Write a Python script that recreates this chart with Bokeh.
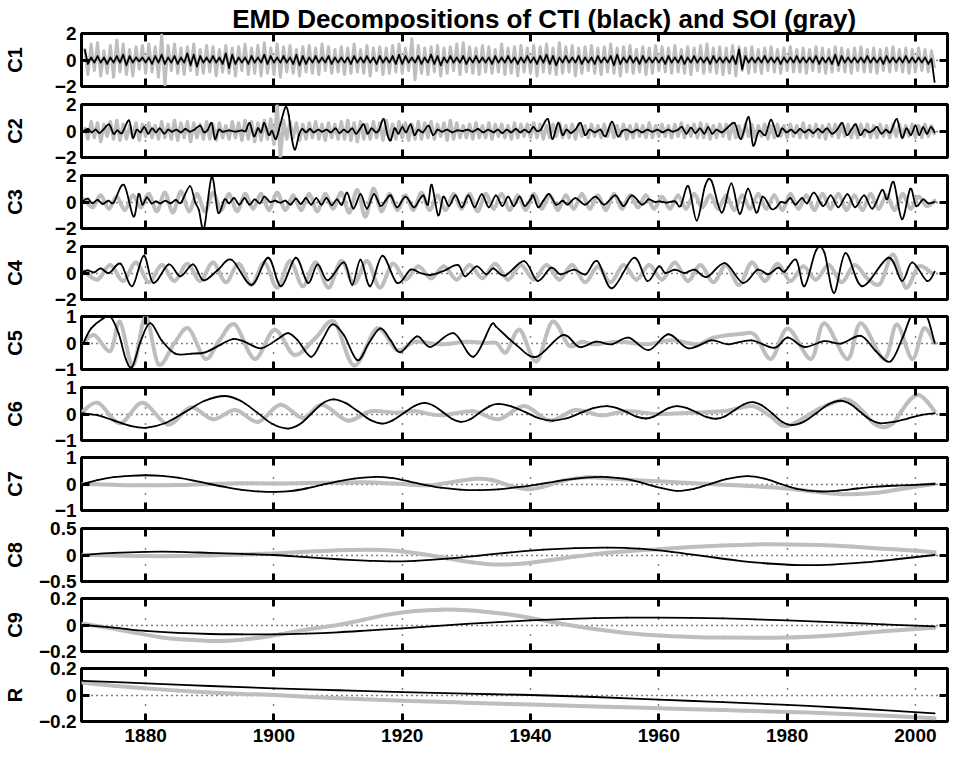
import numpy as np
from bokeh.plotting import figure
from bokeh.layouts import column
from bokeh.models import LinearAxis, FixedTicker, Range1d, Grid, Label
from bokeh.embed import file_html
from bokeh.resources import INLINE

TITLE = "EMD Decompositions of CTI (black) and SOI (gray)"
x_ticks = [1880, 1900, 1920, 1940, 1960, 1980, 2000]
x_tick_text = ["1880", "1900", "1920", "1940", "1960", "1980", "2000"]
panel_names = ["C1", "C2", "C3", "C4", "C5", "C6", "C7", "C8", "C9", "R"]
panel_limits = [2, 2, 2, 2, 1, 1, 1, 0.5, 0.2, 0.2]
panel_tick_text = [["−2", "0", "2"]] * 4 + [["−1", "0", "1"]] * 3 + \
    [["−0.5", "0", "0.5"], ["−0.2", "0", "0.2"], ["−0.2", "0", "0.2"]]

# ---------------- C1 (half-year samples from 1870.5) ----------------
c1_soi = [
 0.9,-1.1,1.2,-0.8,1.3,-1.2,0.7,-1.0,1.1,-1.3,1.5,-0.9,1.2,-1.1,0.8,-1.2,1.0,-0.7,1.1,-1.0,
 1.2,-0.9,1.0,-1.3,1.9,-1.9,1.1,-0.8,1.2,-1.0,0.9,-1.1,1.0,-0.8,1.2,-1.1,0.8,-1.0,1.1,-0.9,
 1.0,-1.2,0.8,-0.9,1.1,-1.0,0.9,-1.2,1.0,-0.8,1.2,-1.1,0.9,-1.0,1.1,-1.2,1.3,-1.0,0.9,-1.1,
 1.2,-1.3,1.0,-0.9,1.1,-1.0,0.8,-1.2,1.0,-0.9,1.1,-1.0,0.9,-1.1,1.2,-0.8,1.0,-1.0,0.8,-0.9,
 1.0,-1.1,0.9,-1.0,1.2,-0.9,0.8,-1.0,1.1,-1.2,0.9,-0.8,1.0,-1.1,0.9,-1.0,1.1,-0.9,1.2,-1.0,
 0.9,-0.8,1.6,-1.5,1.1,-1.0,0.9,-1.1,1.0,-0.9,1.1,-1.2,0.9,-1.0,1.0,-0.8,1.2,-1.1,1.3,-0.9,
 1.0,-1.0,0.9,-1.1,1.1,-0.9,1.0,-1.0,0.8,-0.9,1.2,-1.1,0.9,-1.0,1.0,-1.2,1.1,-0.9,0.9,-1.0,
 1.1,-1.2,1.0,-0.9,1.2,-1.0,0.9,-1.1,1.3,-1.0,1.0,-0.9,1.1,-1.2,0.9,-1.0,1.0,-0.8,1.1,-1.0,
 0.9,-1.1,1.0,-0.9,1.2,-1.0,0.9,-1.2,1.0,-0.9,1.1,-1.0,0.8,-0.9,1.0,-1.1,0.9,-1.0,1.1,-0.8,
 1.0,-0.9,0.9,-1.0,1.1,-0.9,0.8,-1.0,1.0,-1.1,0.9,-0.8,1.1,-1.0,1.2,-0.9,0.9,-1.0,1.0,-1.1,
 0.9,-1.0,1.1,-1.2,1.0,-0.8,0.9,-1.0,1.0,-0.9,0.8,-1.0,0.9,-0.8,1.0,-0.9,0.8,-1.0,0.9,-0.8,
 1.0,-0.9,0.8,-0.9,0.9,-1.0,0.8,-0.8,1.0,-0.9,0.9,-1.0,0.8,-0.9,1.0,-0.8,0.9,-0.9,0.8,-1.0,
 0.9,-0.8,1.0,-0.9,0.8,-0.9,0.9,-1.0,0.8,-0.8,0.9,-0.9,1.0,-0.8,0.8,-0.9,0.9,-1.0,0.8,-0.9,
 0.9,-0.8,0.8,-0.9,0.7,-0.6]
c1_cti = [
 0.8,-0.3,0.2,-0.2,0.3,-0.2,0.2,-0.3,0.2,-0.2,0.3,-0.2,0.4,-0.4,0.3,-0.2,0.2,-0.1,0.2,-0.2,
 0.2,-0.3,0.3,-0.2,0.4,-0.3,0.2,-0.2,0.3,-0.3,0.2,-0.2,0.5,-0.4,0.4,-0.5,0.3,-0.2,0.2,-0.2,
 0.3,-0.2,0.2,-0.3,0.5,-0.6,0.4,-0.3,0.2,-0.2,0.2,-0.3,0.3,-0.2,0.2,-0.2,0.4,-0.3,0.3,-0.2,
 0.2,-0.2,0.3,-0.2,0.2,-0.3,0.4,-0.4,0.3,-0.3,0.2,-0.2,0.3,-0.2,0.2,-0.2,0.3,-0.3,0.2,-0.2,
 0.2,-0.2,0.2,-0.3,0.3,-0.2,0.2,-0.2,0.3,-0.2,0.2,-0.3,0.3,-0.2,0.2,-0.2,0.3,-0.3,0.4,-0.3,
 0.3,-0.2,0.2,-0.2,0.3,-0.3,0.2,-0.2,0.4,-0.3,0.3,-0.4,0.2,-0.2,0.3,-0.2,0.2,-0.2,0.3,-0.3,
 0.2,-0.2,0.3,-0.2,0.2,-0.2,0.2,-0.3,0.3,-0.2,0.2,-0.2,0.3,-0.2,0.2,-0.3,0.2,-0.2,0.3,-0.2,
 0.2,-0.3,0.3,-0.2,0.4,-0.3,0.3,-0.4,0.2,-0.2,0.3,-0.2,0.2,-0.2,0.3,-0.3,0.2,-0.2,0.2,-0.3,
 0.3,-0.2,0.2,-0.2,0.3,-0.4,0.4,-0.3,0.2,-0.2,0.3,-0.2,0.2,-0.3,0.3,-0.2,0.2,-0.2,0.2,-0.2,
 0.2,-0.3,0.3,-0.2,0.2,-0.2,0.3,-0.3,0.2,-0.2,0.3,-0.2,0.2,-0.2,0.2,-0.3,0.3,-0.2,0.2,-0.2,
 0.2,-0.2,0.3,-0.3,0.8,-0.7,0.3,-0.2,0.2,-0.2,0.2,-0.2,0.3,-0.2,0.2,-0.2,0.2,-0.3,0.2,-0.2,
 0.2,-0.2,0.3,-0.2,0.2,-0.2,0.2,-0.2,0.3,-0.3,0.2,-0.2,0.2,-0.3,0.4,-0.4,0.3,-0.2,0.2,-0.2,
 0.2,-0.2,0.2,-0.2,0.3,-0.2,0.2,-0.2,0.2,-0.3,0.3,-0.2,0.2,-0.2,0.2,-0.2,0.3,-0.2,0.2,-0.2,
 0.2,-0.2,0.2,-0.3,0.1,-1.7]

# ---------------- C2 ----------------
c2_soi = [
 0.3,-0.6,0.7,-0.5,0.6,-0.8,0.5,-0.4,0.7,-0.6,0.8,-0.7,0.5,-0.6,0.4,-0.5,0.6,-0.7,0.5,-0.4,
 0.6,-0.5,0.4,-0.6,0.7,-0.5,0.5,-0.6,0.8,-0.7,0.6,-0.5,0.7,-0.8,0.6,-0.5,0.5,-0.6,0.7,-0.6,
 0.5,-0.7,0.6,-0.5,0.4,-0.6,0.7,-0.5,0.6,-0.7,0.8,-0.6,0.7,-0.8,0.6,-0.7,0.8,-0.6,0.9,-1.0,
 1.9,-2.0,0.8,-0.6,0.7,-0.5,0.6,-0.7,0.5,-0.6,0.6,-0.5,0.7,-0.6,0.5,-0.7,0.6,-0.5,0.5,-0.6,
 0.7,-0.6,0.8,-0.7,0.6,-0.8,0.7,-0.6,0.5,-0.6,0.7,-0.5,0.6,-0.7,0.8,-0.6,0.5,-0.6,0.7,-0.5,
 0.6,-0.7,0.5,-0.6,0.7,-0.6,0.6,-0.5,0.7,-0.6,0.5,-0.4,0.6,-0.7,0.8,-0.6,0.6,-0.5,0.4,-0.5,
 0.5,-0.6,0.6,-0.5,0.4,-0.5,0.6,-0.6,0.5,-0.4,0.5,-0.5,0.4,-0.6,0.6,-0.5,0.5,-0.4,0.5,-0.5,
 0.6,-0.5,0.5,-0.6,0.4,-0.5,0.5,-0.4,0.6,-0.5,0.4,-0.5,0.5,-0.6,0.5,-0.4,0.4,-0.5,0.5,-0.4,
 0.4,-0.5,0.5,-0.4,0.5,-0.5,0.4,-0.4,0.5,-0.6,0.4,-0.5,0.5,-0.4,0.4,-0.5,0.6,-0.5,0.4,-0.4,
 0.5,-0.4,0.4,-0.5,0.5,-0.4,0.6,-0.5,0.4,-0.4,0.5,-0.5,0.6,-0.5,0.5,-0.6,0.4,-0.5,0.5,-0.4,
 0.5,-0.6,0.6,-0.5,0.4,-0.5,0.5,-0.4,0.5,-0.5,0.4,-0.4,0.5,-0.6,0.4,-0.5,0.5,-0.4,0.4,-0.5,
 0.5,-0.4,0.4,-0.5,0.6,-0.5,0.4,-0.4,0.5,-0.5,0.4,-0.6,0.5,-0.4,0.5,-0.5,0.4,-0.4,0.5,-0.5,
 0.4,-0.5,0.5,-0.4,0.5,-0.5,0.4,-0.5,0.5,-0.4,0.4,-0.5,0.5,-0.4,0.5,-0.5,0.4,-0.4,0.5,-0.5,
 0.4,-0.5,0.5,-0.4,0.4,-0.3]
c2_cti = [
 (1870.3,0.0),(1871.0,0.15),(1871.6,-0.1),(1872.2,0.1),(1872.8,-0.15),(1873.4,0.1),(1874.3,0.5),
 (1875.0,-0.2),(1875.6,0.05),(1876.3,-0.15),(1877.4,0.8),(1878.0,-0.5),(1878.6,0.1),(1879.2,-0.1),
 (1879.8,0.3),(1880.4,-0.2),(1881.0,0.2),(1881.6,-0.1),(1882.2,0.2),(1882.9,-0.2),(1883.5,0.1),
 (1884.1,-0.05),(1884.8,0.1),(1885.5,-0.1),(1886.2,0.15),(1886.9,-0.05),(1887.6,0.1),(1888.5,0.4),
 (1889.1,-0.1),(1889.7,0.1),(1890.3,0.6),(1890.8,-0.6),(1891.4,0.1),(1892.0,-0.05),(1893.0,0.05),
 (1894.0,-0.05),(1895.0,0.05),(1895.6,0.0),(1896.2,0.6),(1896.9,-0.4),(1897.5,0.2),(1898.0,-0.1),
 (1898.5,0.6),(1899.2,-0.3),(1899.7,0.0),(1900.3,-0.6),(1901.0,0.5),(1901.8,1.8),(1902.3,1.2),
 (1902.8,-0.6),(1903.3,-1.4),(1903.9,-0.3),(1904.4,0.15),(1905.0,-0.1),(1905.6,0.15),(1906.2,-0.1),
 (1906.9,0.1),(1907.5,-0.05),(1908.2,0.1),(1908.9,-0.1),(1909.6,0.2),(1910.2,-0.15),(1910.9,0.1),
 (1911.5,-0.1),(1912.2,0.2),(1912.8,-0.2),(1913.4,0.15),(1914.0,0.5),(1914.6,-0.2),(1915.2,0.2),
 (1915.9,-0.1),(1916.4,0.1),(1917.1,0.9),(1917.7,-0.3),(1918.2,-0.7),(1918.8,0.2),(1919.4,-0.2),
 (1920.0,0.3),(1920.6,-0.1),(1921.3,0.5),(1921.9,-0.3),(1922.5,0.1),(1923.2,-0.1),(1924.1,0.4),
 (1924.8,-0.3),(1925.5,0.1),(1926.2,-0.05),(1927.0,0.1),(1927.8,-0.1),(1928.6,0.05),(1929.4,0.0),
 (1930.2,0.1),(1931.0,-0.05),(1931.8,0.15),(1932.6,-0.1),(1933.4,0.1),(1934.2,-0.1),(1934.9,0.1),
 (1935.6,-0.15),(1936.3,0.1),(1937.0,-0.1),(1937.7,0.15),(1938.4,-0.1),(1939.1,0.1),(1939.8,-0.1),
 (1940.4,0.3),(1941.0,0.0),(1941.6,0.1),(1942.7,0.9),(1943.4,-0.6),(1944.3,0.6),(1945.0,-0.3),
 (1945.6,0.1),(1946.3,-0.15),(1947.0,0.1),(1947.8,0.6),(1948.5,-0.3),(1949.2,0.1),(1950.0,-0.1),
 (1950.9,0.1),(1951.7,-0.4),(1952.7,0.7),(1953.6,-0.4),(1954.3,0.0),(1955.0,0.1),(1955.8,-0.1),
 (1956.6,0.1),(1957.4,-0.1),(1958.2,0.1),(1959.0,-0.05),(1959.8,0.1),(1960.6,-0.1),(1961.4,0.1),
 (1962.2,-0.05),(1963.0,0.1),(1963.6,0.3),(1964.3,-0.2),(1965.0,0.25),(1965.7,-0.15),(1966.4,0.2),
 (1967.1,-0.2),(1967.7,0.3),(1968.3,-0.2),(1969.0,0.1),(1969.8,-0.1),(1970.6,0.2),(1971.8,0.6),
 (1972.8,-0.6),(1974.0,1.05),(1974.7,-1.1),(1975.6,0.0),(1976.6,-0.3),(1977.5,0.85),(1978.5,-0.4),
 (1979.2,0.2),(1979.9,-0.1),(1980.6,0.1),(1981.3,-0.15),(1982.0,0.15),(1982.7,-0.1),(1983.4,0.1),
 (1984.1,-0.15),(1984.8,0.15),(1985.5,-0.1),(1986.2,0.2),(1987.0,-0.2),(1987.8,0.1),(1988.6,0.6),
 (1989.3,-0.3),(1990.0,0.1),(1990.7,0.5),(1991.4,-0.3),(1992.1,0.1),(1992.8,-0.1),(1993.5,0.1),
 (1994.0,0.3),(1994.7,-0.2),(1995.4,0.1),(1996.1,-0.1),(1997.1,0.9),(1997.9,-0.5),(1998.6,0.2),
 (1999.3,-0.3),(2000.0,0.4),(2000.6,-0.3),(2001.2,0.3),(2001.8,-0.2),(2002.4,0.3),(2003.0,-0.1)]

# ---------------- C3 ----------------
c3_soi = [  # 1.25-year spaced extrema from 1870.5
 0.2,-0.4,0.5,-0.5,0.4,-0.6,0.5,-0.4,
 0.6,-0.7,0.7,-0.8,0.8,-0.7,0.6,-0.7,
 0.7,-0.6,0.6,-0.7,0.6,-0.5,0.6,-0.6,
 0.7,-0.6,0.5,-0.6,0.6,-0.7,0.6,-0.5,
 0.7,-0.8,0.9,-1.1,1.0,-0.7,0.6,-0.6,
 0.5,-0.6,0.7,-0.6,0.5,-0.6,0.6,-0.5,
 0.6,-0.7,0.6,-0.5,0.6,-0.6,0.5,-0.6,
 0.6,-0.5,0.5,-0.6,0.5,-0.5,0.6,-0.5,
 0.5,-0.6,0.6,-0.5,0.5,-0.4,0.5,-0.5,
 0.4,-0.5,0.5,-0.5,0.6,-0.4,0.5,-0.5,
 0.5,-0.6,0.5,-0.5,0.6,-0.5,0.5,-0.6,
 0.6,-0.5,0.5,-0.6,0.6,-0.5,0.6,-0.6,
 0.5,-0.6,0.6,-0.5,0.5,-0.6,0.6,-0.5,
 0.4,-0.3,0.1]
c3_cti = [
 (1870.3,0.1),(1871.0,0.25),(1871.7,-0.1),(1872.5,0.15),(1873.3,-0.15),(1874.2,0.1),(1875.0,-0.05),
 (1876.6,1.3),(1878.1,-1.1),(1878.9,0.6),(1879.5,-0.2),(1880.2,0.35),(1880.9,-0.1),(1881.6,0.05),
 (1882.3,-0.1),(1883.1,0.1),(1883.9,-0.1),(1884.7,0.15),(1885.5,-0.05),(1886.9,1.2),(1887.7,0.0),
 (1888.3,-0.6),(1889.1,-2.0),(1890.3,1.9),(1891.3,-0.8),(1892.3,0.2),(1893.0,-0.1),(1893.8,0.3),
 (1894.6,-0.2),(1895.4,0.3),(1896.2,-0.2),(1897.0,0.2),(1897.8,-0.1),(1898.5,0.4),(1899.4,0.0),
 (1900.2,0.1),(1901.0,-0.05),(1901.8,0.1),(1902.6,-0.2),(1903.4,0.25),(1904.2,-0.15),(1905.0,0.3),
 (1905.8,-0.2),(1906.6,0.3),(1907.4,-0.2),(1908.2,0.3),(1909.0,-0.25),(1909.8,0.2),(1910.6,-0.2),
 (1911.4,0.7),(1912.4,-0.5),(1913.5,0.6),(1914.5,-0.5),(1915.6,0.6),(1916.6,-0.3),(1917.4,0.1),
 (1918.2,0.5),(1919.2,-0.4),(1920.5,0.4),(1921.8,-0.4),(1922.6,0.1),(1923.3,0.5),(1924.0,-0.2),
 (1924.6,1.3),(1925.6,-1.0),(1926.4,0.4),(1927.3,-0.3),(1928.3,0.5),(1929.3,-0.4),(1930.3,0.5),
 (1931.3,-0.4),(1932.4,0.6),(1933.5,-0.4),(1934.6,0.5),(1935.6,-0.3),(1936.5,0.4),(1937.4,-0.3),
 (1938.3,0.4),(1939.1,-0.3),(1940.0,0.2),(1940.4,0.5),(1941.2,-0.4),(1942.0,0.1),(1942.9,0.6),
 (1944.0,-0.2),(1945.0,0.1),(1945.8,-0.2),(1947.0,0.3),(1948.5,-0.2),(1950.1,0.4),(1951.5,-0.2),
 (1953.2,0.5),(1954.5,-0.3),(1955.8,0.5),(1957.4,-0.2),(1958.4,0.2),(1959.4,0.0),(1960.2,0.05),
 (1961.2,-0.05),(1962.5,0.05),(1963.4,-0.3),(1964.6,1.2),(1965.9,-1.4),(1967.2,1.2),(1968.2,1.6),
 (1969.8,-0.8),(1971.3,1.4),(1972.6,-0.9),(1973.9,1.0),(1975.2,-0.8),(1976.2,0.4),(1977.5,-0.5),
 (1978.2,-0.45),(1979.0,0.0),(1979.8,-0.05),(1980.5,0.3),(1981.3,-0.2),(1982.3,0.3),(1983.1,-0.1),
 (1984.2,0.7),(1985.6,-0.3),(1986.8,0.5),(1988.0,-0.4),(1989.4,0.6),(1990.6,-0.4),(1992.0,0.5),
 (1993.3,-0.5),(1994.8,0.9),(1995.6,0.2),(1996.6,1.5),(1997.9,-1.3),(1999.2,1.0),(2000.1,-0.3),
 (2001.2,0.2),(2002.0,-0.1),(2003.0,0.0)]

# ---------------- C4 ----------------
c4_soi = [  # 2-year spaced extrema from 1870.5
 0.1,-0.5,0.6,-0.6,0.8, -0.7,0.6,-0.6,0.7,-0.6, 0.8,-0.7,0.7,-0.9,0.8,
 -1.1,0.9,-1.0,0.8,-1.1, 0.9,-0.8,0.9,-1.1,0.7, -0.5,0.5,-0.4,0.5,-0.5,
 0.6,-0.4,0.7,-0.5,0.6, -0.5,0.6,-0.5,0.6,-0.7, 0.5,-0.7,0.6,-0.5,0.6,
 -0.5,0.8,-0.6,0.6,-0.7, 0.6,-0.9,0.8,-0.6,0.7, -0.6,0.5,-0.5,0.6,-0.7,
 0.6,-0.4,-0.8,1.4,-1.1, 0.5,0.0]
c4_cti = [
 (1870.3,0.1),(1871.0,0.2),(1872.0,0.05),(1873.0,0.35),(1874.3,0.0),(1876.1,0.7),(1877.9,-1.0),
 (1879.7,1.3),(1881.2,-0.75),(1883.6,0.65),(1885.4,-0.25),(1887.4,0.65),(1889.0,-0.55),
 (1891.2,0.2),(1893.4,1.0),(1896.5,-0.9),(1899.1,1.15),(1901.1,-1.0),(1903.4,1.15),(1905.3,-0.75),
 (1906.8,0.65),(1908.4,-0.55),(1910.9,0.8),(1912.2,-0.9),(1913.5,1.0),(1915.0,-1.0),(1916.9,1.3),
 (1919.2,-0.75),(1921.3,0.25),(1922.8,0.0),(1924.4,-0.15),(1926.4,0.15),(1928.7,0.6),(1929.8,-0.25),
 (1931.6,0.5),(1933.1,-0.1),(1934.2,0.35),(1936.0,-0.2),(1939.0,0.9),(1941.1,-0.6),(1943.2,0.4),
 (1944.7,-0.1),(1946.8,0.25),(1948.6,-0.1),(1950.4,0.9),(1952.7,-1.15),(1956.1,1.15),(1958.2,-0.6),
 (1960.0,0.5),(1961.0,0.0),(1962.5,0.25),(1964.0,0.0),(1965.6,0.25),(1967.5,-0.3),(1970.3,0.75),
 (1973.1,-0.75),(1975.4,0.25),(1977.0,-0.1),(1978.6,0.4),(1979.6,0.1),(1981.4,1.0),(1982.7,-1.0),
 (1984.5,1.7),(1985.8,1.55),(1987.3,-1.5),(1989.1,1.5),(1991.7,-1.0),(1995.8,1.15),(1997.9,-0.6),
 (1999.5,0.8),(2001.8,-0.6),(2003.0,0.1)]

# ---------------- C5 ----------------
c5_soi = [
 (1870.3,0.0),(1872.0,0.3),(1874.5,-0.3),(1876.0,0.8),(1878.0,-0.85),(1880.0,1.0),(1882.0,-0.8),
 (1884.5,0.0),(1886.7,0.55),(1889.3,-0.6),(1891.5,0.1),(1893.9,0.7),(1897.0,-0.6),(1900.1,0.5),
 (1903.2,-0.45),(1906.5,0.2),(1909.4,0.8),(1912.5,-0.85),(1916.1,0.55),(1919.2,-0.27),(1922.0,0.05),
 (1926.0,-0.05),(1930.0,0.05),(1933.0,0.0),(1934.7,0.0),(1936.2,-0.35),(1938.3,0.5),(1940.9,-0.7),
 (1943.4,0.8),(1946.0,-0.1),(1948.0,0.05),(1950.0,-0.05),(1954.0,0.05),(1958.0,-0.05),(1962.0,0.1),
 (1966.0,-0.05),(1968.5,0.2),(1973.0,0.35),(1975.0,0.3),(1977.5,-0.6),(1980.1,0.55),(1983.7,-0.6),
 (1985.8,0.75),(1989.4,-0.6),(1991.5,0.75),(1995.1,-0.6),(1997.1,0.7),(1999.5,-0.6),(2001.3,0.55),
 (2003.0,0.0)]
c5_cti = [
 (1870.3,0.0),(1871.5,0.55),(1873.2,0.9),(1874.5,1.0),(1875.8,0.35),(1876.9,-0.6),(1877.9,-0.9),
 (1879.2,0.05),(1880.7,0.75),(1882.5,0.1),(1884.6,-0.4),(1887.2,-0.4),(1889.3,-0.35),(1891.8,-0.05),
 (1893.6,0.15),(1895.4,0.05),(1898.0,-0.2),(1900.6,0.15),(1902.2,0.37),(1903.7,0.1),(1905.8,-0.52),
 (1907.5,0.1),(1909.1,0.7),(1910.9,0.3),(1913.0,-0.65),(1914.8,0.0),(1916.6,0.55),(1918.2,0.1),
 (1919.7,-0.35),(1922.3,0.25),(1924.4,-0.15),(1928.0,0.37),(1931.1,-0.52),(1933.9,0.7),(1934.7,0.6),
 (1937.8,-0.08),(1940.9,-0.52),(1945.0,0.3),(1947.6,-0.15),(1950.2,0.05),(1952.7,-0.05),(1955.3,0.2),
 (1958.4,-0.27),(1961.5,0.33),(1964.6,-0.2),(1968.2,0.1),(1970.8,-0.05),(1974.4,0.1),(1978.0,-0.18),
 (1980.1,0.2),(1982.7,-0.15),(1985.8,0.07),(1988.4,-0.02),(1991.5,0.27),(1993.8,-0.3),(1996.1,-0.7),
 (1998.0,0.2),(1999.3,1.0),(2000.5,1.2),(2001.8,1.0),(2003.0,0.0)]

# ---------------- C6 ----------------
c6_soi = [
 (1870.2,0.1),(1872.6,0.42),(1876.0,-0.35),(1879.5,0.42),(1883.5,-0.4),(1887.0,0.25),(1890.5,-0.2),
 (1894.0,0.15),(1897.5,-0.3),(1901.0,0.35),(1904.5,-0.15),(1907.5,0.35),(1911.5,-0.25),(1915.0,0.1),
 (1919.0,0.05),(1922.0,0.1),(1926.0,-0.05),(1931.0,0.1),(1935.0,-0.2),(1939.0,0.3),(1943.0,-0.25),
 (1947.0,0.15),(1951.0,-0.05),(1955.0,0.1),(1960.0,0.0),(1965.0,0.05),(1970.0,0.1),(1974.5,0.3),
 (1977.2,-0.05),(1980.0,-0.45),(1985.0,0.2),(1988.8,0.55),(1990.5,0.4),(1992.0,0.05),(1993.5,-0.35),
 (1995.0,-0.5),(1996.5,-0.35),(1997.8,0.1),(1999.2,0.55),(2000.5,0.72),(2001.7,0.5),(2003.0,0.1)]
c6_cti = [
 (1870.2,0.03),(1872.6,-0.05),(1875.1,-0.25),(1877.5,-0.44),(1880.0,-0.52),(1883.1,-0.34),
 (1886.2,0.08),(1889.2,0.5),(1892.3,0.68),(1894.8,0.5),(1897.3,0.07),(1899.7,-0.37),(1902.2,-0.55),
 (1904.0,-0.39),(1905.8,0.0),(1907.5,0.39),(1909.3,0.55),(1911.2,0.41),(1913.1,0.1),(1915.0,-0.22),
 (1916.9,-0.36),(1918.5,-0.24),(1920.2,0.03),(1921.9,0.3),(1923.5,0.42),(1924.9,0.31),(1926.4,0.06),
 (1927.8,-0.19),(1929.2,-0.3),(1930.6,-0.2),(1932.0,0.04),(1933.5,0.28),(1934.9,0.38),(1937.0,0.29),
 (1939.2,0.07),(1941.3,-0.16),(1943.4,-0.25),(1945.5,-0.17),(1947.7,0.03),(1949.8,0.22),(1951.9,0.3),
 (1953.4,0.23),(1955.0,0.07),(1956.5,-0.1),(1958.0,-0.17),(1959.2,-0.1),(1960.4,0.07),(1961.6,0.23),
 (1962.8,0.3),(1964.3,0.23),(1965.9,0.06),(1967.4,-0.11),(1968.9,-0.18),(1970.3,-0.09),(1971.8,0.14),
 (1973.2,0.36),(1974.6,0.45),(1976.1,0.32),(1977.7,0.02),(1979.2,-0.29),(1980.8,-0.42),(1982.7,-0.28),
 (1984.6,0.04),(1986.4,0.36),(1988.3,0.5),(1989.9,0.37),(1991.4,0.08),(1993.0,-0.22),(1994.5,-0.35),
 (1996.6,-0.3),(1998.8,-0.17),(2000.9,-0.04),(2003.0,0.02)]

# ---------------- C7 ----------------
c7_soi = [
 (1870.2,0.0),(1875,-0.03),(1880,-0.05),(1885,-0.04),(1890,0.0),(1895,0.03),(1900,0.02),(1905,0.04),
 (1910,0.05),(1915,0.06),(1920,0.0),(1924,-0.05),(1928,0.08),(1931.5,0.2),(1934,0.15),(1937,-0.08),
 (1939.5,-0.2),(1942,-0.1),(1945,0.12),(1948.5,0.25),(1952,0.22),(1956,0.15),(1960,0.1),(1964,0.05),
 (1968,0.0),(1972,-0.05),(1976,-0.1),(1980,-0.17),(1984,-0.28),(1988,-0.38),(1991,-0.38),(1994,-0.33),
 (1997,-0.22),(2000,-0.1),(2003,0.0)]
c7_cti = [
 (1870.2,0.0),(1872.5,0.15),(1875,0.26),(1877.5,0.31),(1880.0,0.33),(1882.5,0.31),(1885,0.24),
 (1887.5,0.13),(1890,0.0),(1892.5,-0.12),(1895,-0.22),(1897.5,-0.28),(1900.3,-0.3),(1902.5,-0.27),
 (1905,-0.17),(1907.5,-0.03),(1910,0.1),(1912.5,0.2),(1915.9,0.27),(1918.5,0.22),(1921,0.1),
 (1923.5,-0.03),(1926,-0.14),(1929,-0.21),(1932,-0.23),(1935,-0.2),(1938,-0.12),(1941,-0.02),
 (1944,0.1),(1947,0.2),(1950,0.26),(1952,0.26),(1954.5,0.2),(1957,0.07),(1959.5,-0.1),(1962.8,-0.26),
 (1965.5,-0.18),(1968,0.0),(1970.5,0.18),(1973.8,0.3),(1976.5,0.2),(1979,0.0),(1981.5,-0.18),
 (1984.8,-0.28),(1988,-0.25),(1991,-0.17),(1994,-0.1),(1997,-0.06),(2000,-0.03),(2003,0.0)]

# ---------------- C8 ----------------
c8_soi = [
 (1870.2,0.0),(1875,-0.01),(1880,-0.02),(1885,-0.02),(1890,-0.01),(1895,0.01),(1900,0.03),
 (1905,0.06),(1910,0.09),(1915,0.1),(1919,0.08),(1923,0.02),(1927,-0.06),(1931,-0.14),(1935,-0.18),
 (1939,-0.16),(1943,-0.1),(1947,-0.03),(1951,0.03),(1955,0.07),(1960,0.11),(1965,0.15),(1970,0.18),
 (1975,0.2),(1980,0.2),(1985,0.19),(1990,0.16),(1995,0.12),(2000,0.08),(2003,0.05)]
c8_cti = [
 (1870.2,0.0),(1875,0.04),(1880,0.06),(1885,0.06),(1890,0.04),(1895,0.02),(1900,0.0),(1905,-0.04),
 (1910,-0.08),(1915,-0.11),(1918,-0.12),(1922,-0.11),(1927,-0.07),(1932,-0.01),(1937,0.05),
 (1942,0.1),(1947,0.13),(1952,0.14),(1957,0.12),(1962,0.06),(1967,-0.02),(1972,-0.1),(1977,-0.16),
 (1982,-0.19),(1987,-0.18),(1992,-0.14),(1997,-0.08),(2003,0.0)]

# ---------------- C9 ----------------
c9_soi = [
 (1870.2,0.01),(1874,-0.02),(1878,-0.055),(1882,-0.09),(1886,-0.11),(1890,-0.12),(1893,-0.118),
 (1897,-0.1),(1901,-0.07),(1905,-0.035),(1910,0.0),(1914,0.04),(1918,0.08),(1922,0.105),(1926,0.116),
 (1930,0.112),(1934,0.095),(1938,0.07),(1942,0.035),(1946,0.0),(1950,-0.03),(1955,-0.06),(1960,-0.08),
 (1965,-0.09),(1970,-0.095),(1975,-0.096),(1980,-0.095),(1985,-0.085),(1990,-0.068),(1995,-0.048),
 (2000,-0.03),(2003,-0.02)]
c9_cti = [
 (1870.2,0.0),(1875,-0.02),(1880,-0.045),(1885,-0.06),(1890,-0.068),(1895,-0.07),(1900,-0.07),
 (1905,-0.065),(1910,-0.055),(1915,-0.04),(1920,-0.025),(1925,-0.008),(1930,0.008),(1935,0.022),
 (1940,0.035),(1945,0.045),(1950,0.052),(1955,0.056),(1960,0.056),(1965,0.054),(1970,0.05),
 (1975,0.043),(1980,0.035),(1985,0.026),(1990,0.015),(1995,0.005),(2000,-0.005),(2003,-0.01)]

# ---------------- Residual ----------------
r_soi = [
 (1870.2,0.093),(1875,0.07),(1880,0.05),(1885,0.033),(1890,0.019),(1895,0.008),(1900,0.0),
 (1910,-0.025),(1920,-0.043),(1930,-0.058),(1940,-0.072),(1950,-0.086),(1960,-0.1),(1970,-0.114),
 (1980,-0.128),(1990,-0.145),(2003,-0.175)]
r_cti = [
 (1870.2,0.107),(1880,0.088),(1890,0.068),(1900,0.05),(1910,0.036),(1920,0.022),(1930,0.01),
 (1940,0.0),(1950,-0.015),(1960,-0.035),(1970,-0.054),(1980,-0.075),(1990,-0.1),(2003,-0.138)]


def even(vals, start, step):
    return list(start + step * np.arange(len(vals))), list(vals)


def pairs(lst):
    return [a for a, _ in lst], [b for _, b in lst]


# (gray series, black series, gray width, gray drawn smooth?, black drawn smooth?)
series = [
    (even(c1_soi, 1870.5, 0.5), even(c1_cti, 1870.5, 0.5), 3.0, False, False),
    (even(c2_soi, 1870.5, 0.5), pairs(c2_cti), 3.5, False, True),
    (even(c3_soi, 1870.5, 1.25), pairs(c3_cti), 4.0, True, True),
    (even(c4_soi, 1870.5, 2.0), pairs(c4_cti), 4.0, True, True),
    (pairs(c5_soi), pairs(c5_cti), 4.0, True, True),
    (pairs(c6_soi), pairs(c6_cti), 4.0, True, True),
    (pairs(c7_soi), pairs(c7_cti), 4.0, True, True),
    (pairs(c8_soi), pairs(c8_cti), 4.0, True, True),
    (pairs(c9_soi), pairs(c9_cti), 4.0, True, True),
    (pairs(r_soi), pairs(r_cti), 4.0, True, True),
]

FONT = "Liberation Sans"
GRAY = "#bebebe"
X0, X1 = 1870, 2005
W = 949
LEFT, RIGHT = 75, 2
FW = W - LEFT - RIGHT
FH = 53
PAD = 12
overlaps = [-12, -6, -6, -6, -7, -6, -7, -6, -7, -7]
BOTTOM_LAST = 30


def curve_segments(xs, ys):
    """Cubic Bezier pieces of a smooth curve through the given points."""
    n = len(xs)
    out = {k: [] for k in ("x0", "y0", "x1", "y1", "cx0", "cy0", "cx1", "cy1")}
    for i in range(n - 1):
        xa, ya, xb, yb = xs[i], ys[i], xs[i + 1], ys[i + 1]
        xp, yp = (xs[i - 1], ys[i - 1]) if i > 0 else (xa, ya)
        xn, yn = (xs[i + 2], ys[i + 2]) if i + 2 < n else (xb, yb)
        dx = xb - xa
        t1x, t1y = (xb - xp) / 6.0, (yb - yp) / 6.0
        t2x, t2y = (xn - xa) / 6.0, (yn - ya) / 6.0
        if t1x > dx / 2:
            s = dx / 2 / t1x
            t1x, t1y = t1x * s, t1y * s
        if t2x > dx / 2:
            s = dx / 2 / t2x
            t2x, t2y = t2x * s, t2y * s
        out["x0"].append(xa); out["y0"].append(ya)
        out["x1"].append(xb); out["y1"].append(yb)
        out["cx0"].append(xa + t1x); out["cy0"].append(ya + t1y)
        out["cx1"].append(xb - t2x); out["cy1"].append(yb - t2y)
    return out


def draw(p, xs, ys, smooth, color, width):
    if smooth:
        p.bezier(line_color=color, line_width=width, line_cap="round", **curve_segments(xs, ys))
    else:
        p.line(xs, ys, line_color=color, line_width=width, line_join="round")


def style_axis(ax):
    ax.major_tick_in = 8
    ax.major_tick_out = 0
    ax.minor_tick_line_color = None
    ax.major_tick_line_width = 3
    ax.major_tick_line_color = "black"
    ax.axis_line_color = None
    ax.major_label_text_font = FONT
    ax.major_label_text_font_style = "bold"
    ax.major_label_text_color = "black"
    ax.major_label_text_font_size = "19px"


def hide_labels(ax):
    ax.major_label_text_font_size = "0px"
    ax.major_label_text_color = None
    ax.major_label_standoff = 0


# title strip (its frame covers the whole strip, so its text is drawn inside it)
title_fig = figure(width=W, height=41, x_range=Range1d(0, W), y_range=Range1d(0, 41),
                   output_backend="svg", toolbar_location=None,
                   x_axis_location=None, y_axis_location=None, min_border=0, title=None)
title_fig.outline_line_color = None
title_fig.background_fill_color = None
title_fig.border_fill_color = None
title_fig.xgrid.visible = False
title_fig.ygrid.visible = False
title_fig.add_layout(Label(x=LEFT + FW / 2 - 4, y=15, text=TITLE, text_align="center",
                           text_baseline="alphabetic", text_font=FONT,
                           text_font_style="bold", text_font_size="26px", text_color="black"))
title_fig.margin = (-8, 0, 0, 0)

figs = [title_fig]
last = len(panel_names) - 1
for i, name in enumerate(panel_names):
    lim = panel_limits[i]
    (gx, gy), (bx, by), gw, g_smooth, b_smooth = series[i]
    bottom = BOTTOM_LAST if i == last else PAD
    p = figure(width=W, height=PAD + FH + bottom,
               x_range=Range1d(X0, X1), y_range=Range1d(-lim, lim),
               output_backend="svg", toolbar_location=None,
               x_axis_location=None, y_axis_location=None,
               min_border_left=LEFT, min_border_right=RIGHT,
               min_border_top=PAD, min_border_bottom=bottom, title=None)
    p.xgrid.visible = False
    p.ygrid.visible = False
    p.outline_line_color = "black"
    p.outline_line_width = 3
    p.background_fill_color = "white"
    p.border_fill_color = None

    yt = [-lim, 0, lim]
    labels = panel_tick_text[i]
    left = LinearAxis(ticker=FixedTicker(ticks=yt),
                      major_label_overrides={yt[0]: labels[0], 0: labels[1], yt[2]: labels[2]})
    style_axis(left)
    left.major_label_standoff = 5
    left.axis_label = name
    left.axis_label_text_font = FONT
    left.axis_label_text_font_style = "bold"
    left.axis_label_text_font_size = "20px"
    left.axis_label_text_color = "black"
    left.axis_label_standoff = 10 if len(labels[0]) == 4 else 26
    p.add_layout(left, "left")

    right = LinearAxis(ticker=FixedTicker(ticks=yt))
    style_axis(right)
    hide_labels(right)
    p.add_layout(right, "right")

    below = LinearAxis(ticker=FixedTicker(ticks=x_ticks))
    style_axis(below)
    if i == last:
        below.major_label_overrides = dict(zip(x_ticks, x_tick_text))
        below.major_label_standoff = 7
    else:
        hide_labels(below)
    p.add_layout(below, "below")

    above = LinearAxis(ticker=FixedTicker(ticks=x_ticks))
    style_axis(above)
    hide_labels(above)
    p.add_layout(above, "above")

    p.add_layout(Grid(dimension=0, ticker=FixedTicker(ticks=x_ticks), grid_line_color="black",
                      grid_line_width=1.4, grid_line_dash="1 15"))
    p.add_layout(Grid(dimension=1, ticker=FixedTicker(ticks=[0]), grid_line_color="black",
                      grid_line_width=1.4, grid_line_dash="1 4"))

    draw(p, gx, gy, g_smooth, GRAY, gw)
    draw(p, bx, by, b_smooth, "black", 1.8)

    p.margin = (overlaps[i], 0, -8 if i == last else 0, 0)
    figs.append(p)

layout = column(*figs, spacing=0)
open("out.html", "w").write(file_html(layout, INLINE))
